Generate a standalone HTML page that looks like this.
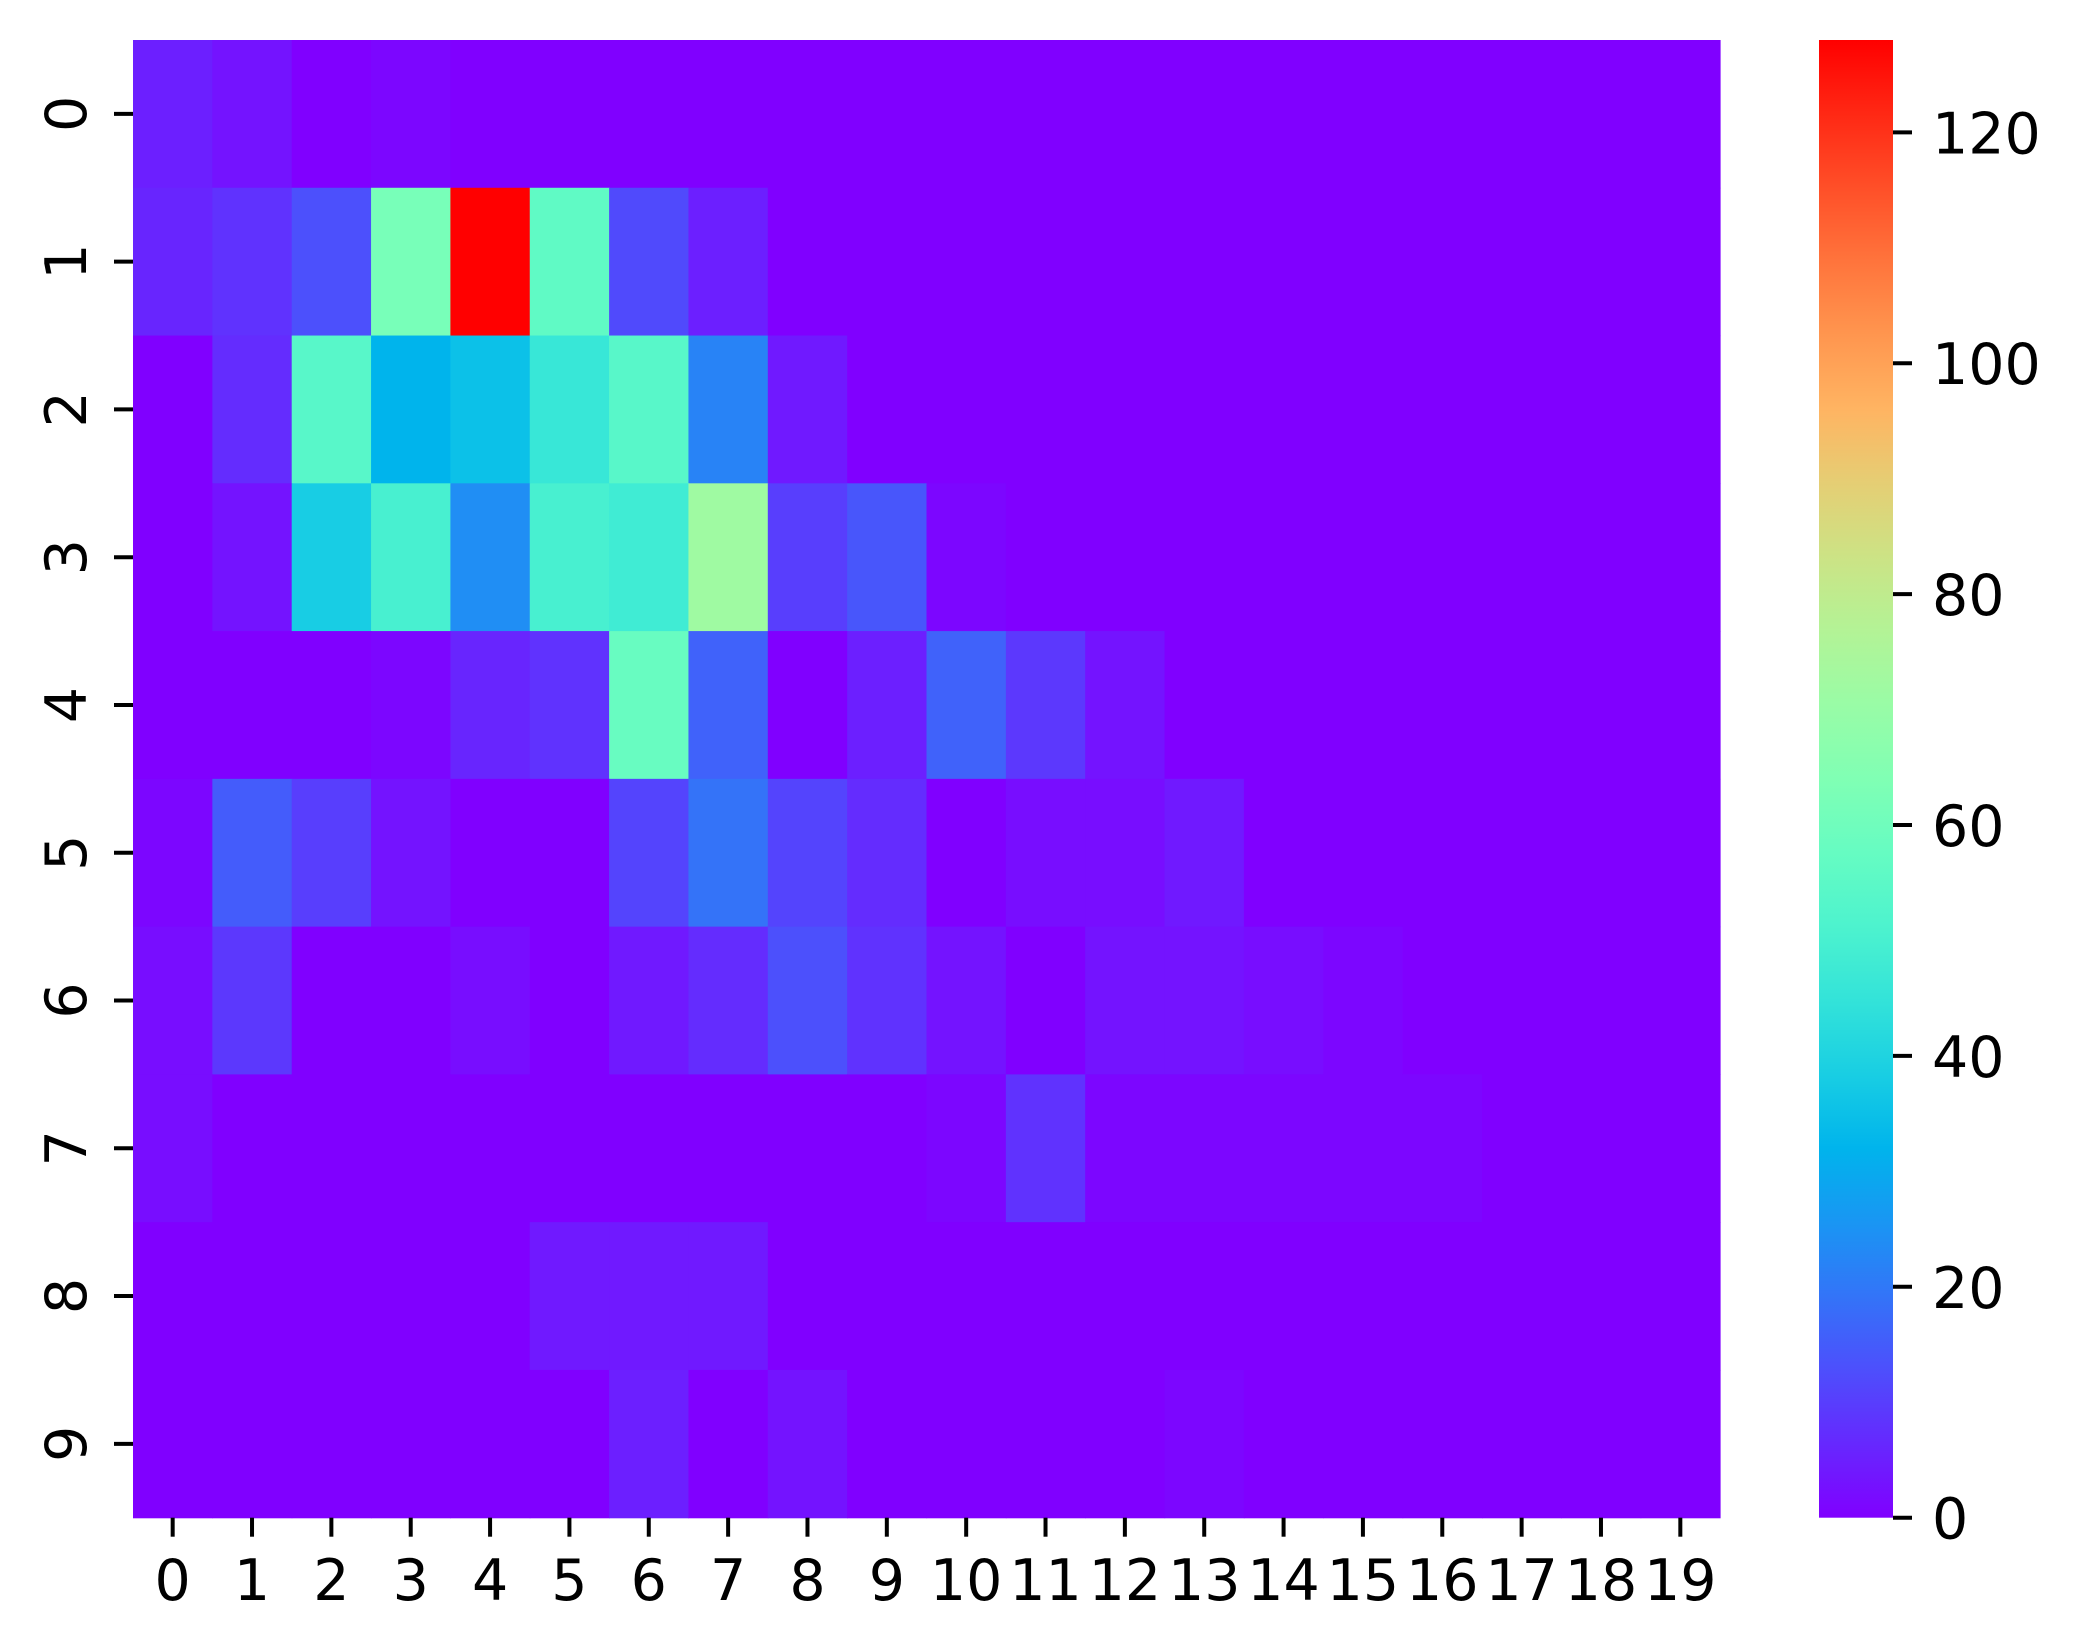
<!DOCTYPE html>
<html><head><meta charset="utf-8"><style>body{margin:0;background:#fff}svg{display:block}text{font-family:"DejaVu Sans","Liberation Sans",sans-serif;font-size:57px;fill:#000}</style></head>
<body>
<svg id="chart" width="2078" height="1651" xmlns="http://www.w3.org/2000/svg">
<defs><linearGradient id="cbg" x1="0" y1="1" x2="0" y2="0"></linearGradient></defs>
<g id="cells"></g>
<g id="axes"></g>
<rect x="1819" y="40" width="74" height="1477.7" fill="url(#cbg)"/>
<g id="cbaxis"></g>
</svg>
<script>
const rowLabels=[0,1,2,3,4,5,6,7,8,9];
const colLabels=[0,1,2,3,4,5,6,7,8,9,10,11,12,13,14,15,16,17,18,19];
const row0=[5,3,0,1,0,0,0,0,0,0,0,0,0,0,0,0,0,0,0,0];
const row1=[6,8,13,62,128,56,12,5,0,0,0,0,0,0,0,0,0,0,0,0];
const row2=[0,7,54,32,35,46,54,22,4,0,0,0,0,0,0,0,0,0,0,0];
const row3=[0,3,38,50,24,50,48,72,10,14,1,0,0,0,0,0,0,0,0,0];
const row4=[0,0,0,1,6,8,58,16,0,5,16,9,3,0,0,0,0,0,0,0];
const row5=[1,15,10,3,0,0,11,19,11,7,0,2,2,4,0,0,0,0,0,0];
const row6=[2,9,0,0,2,0,4,7,13,8,3,0,3,3,2,1,0,0,0,0];
const row7=[2,0,0,0,0,0,0,0,0,0,1,8,1,1,1,1,1,0,0,0];
const row8=[0,0,0,0,0,4,4,4,0,0,0,0,0,0,0,0,0,0,0,0];
const row9=[0,0,0,0,0,0,5,0,3,0,0,0,0,1,0,0,0,0,0,0];
const rows=[row0,row1,row2,row3,row4,row5,row6,row7,row8,row9];
const cbTicks=[0,20,40,60,80,100,120];
const vmin=0,vmax=128;
const L=133,R=1720,T=40,B=1517.7;
const NS="http://www.w3.org/2000/svg";
const cw=(R-L)/colLabels.length,ch=(B-T)/rowLabels.length;
function rainbow(t){t=Math.max(0,Math.min(1,t));
 const r=Math.min(1,Math.abs(2*t-0.5)),g=Math.sin(Math.PI*t),b=Math.cos(Math.PI*t/2);
 return `rgb(${Math.round(r*255)},${Math.round(g*255)},${Math.round(Math.max(0,b)*255)})`;}
function xs(i){return L+i*cw}
function ys(j){return T+j*ch}
function el(tag,attrs,parent){const e=document.createElementNS(NS,tag);for(const k in attrs)e.setAttribute(k,attrs[k]);parent.appendChild(e);return e;}
const cells=document.getElementById('cells');
rows.forEach((row,j)=>row.forEach((v,i)=>{
 const r=el('rect',{x:xs(i),y:ys(j),width:cw+0.6,height:ch+0.6,fill:rainbow((v-vmin)/(vmax-vmin))},cells);
 
 
}));
const axes=document.getElementById('axes');
colLabels.forEach((c,i)=>{const x=xs(i)+cw/2;
 el('line',{x1:x,y1:B,x2:x,y2:B+19,stroke:'#000','stroke-width':4},axes);
 const t=el('text',{x:x,y:1600,'text-anchor':'middle'},axes);t.textContent=c;
 
 });
rowLabels.forEach((r,j)=>{const y=ys(j)+ch/2;
 el('line',{x1:L-19,y1:y,x2:L,y2:y,stroke:'#000','stroke-width':4},axes);
 const t=el('text',{x:0,y:0,'text-anchor':'middle',transform:`translate(86,${y}) rotate(-90)`},axes);t.textContent=r;
 
 });
const g=document.getElementById('cbg');
for(let k=0;k<=20;k++){el('stop',{offset:k/20,'stop-color':rainbow(k/20)},g);}
const cb=document.getElementById('cbaxis');
cbTicks.forEach(v=>{const y=B-(v-vmin)/(vmax-vmin)*(B-T);
 el('line',{x1:1893,y1:y,x2:1912,y2:y,stroke:'#000','stroke-width':4},cb);
 const t=el('text',{x:1932,y:y+21},cb);t.textContent=v;
 
 });
</script>
</body></html>
